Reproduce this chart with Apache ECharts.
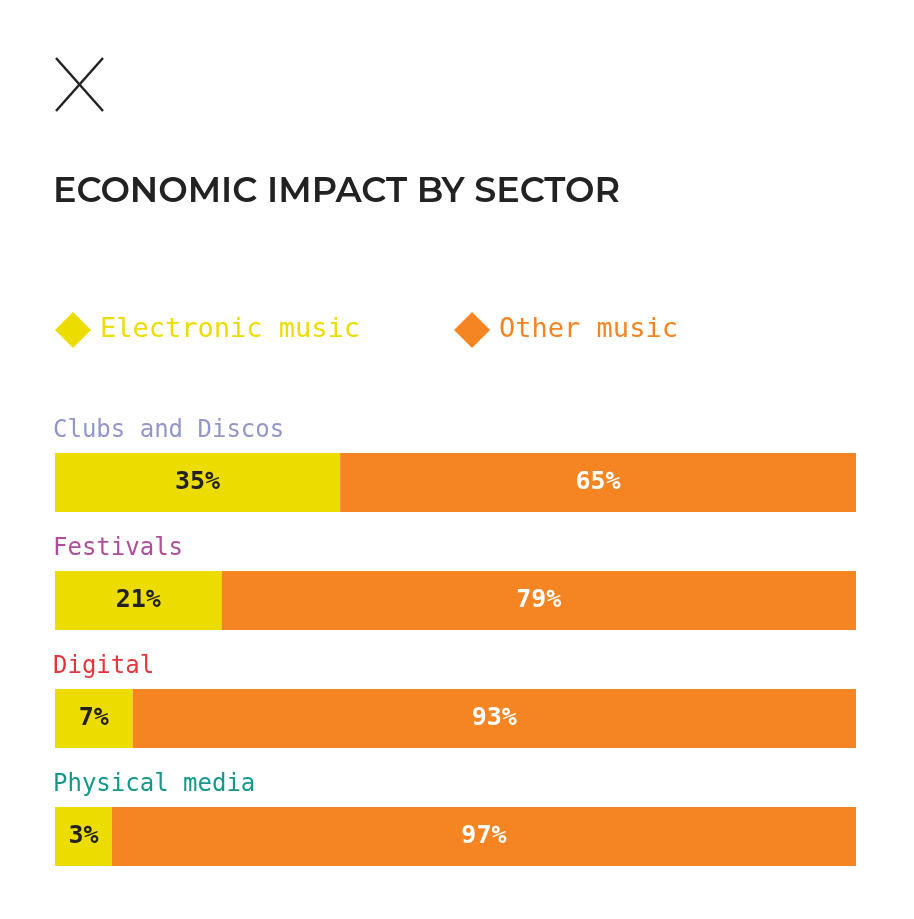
<!DOCTYPE html>
<html>
<head>
<meta charset="utf-8">
<script src="https://cdn.jsdelivr.net/npm/echarts@6/dist/echarts.min.js"></script>
<style>
  html, body { margin: 0; padding: 0; background: #fff; }
  #chart { width: 914px; height: 919px; }
</style>
</head>
<body>
<div id="chart"></div>
<script>
const categories = ["Clubs and Discos", "Festivals", "Digital", "Physical media"];
const categoryColors = ["#9396c8", "#b04c9e", "#e8343c", "#15978b"];
const electronicLabels = [35, 21, 7, 3];
const otherLabels = [65, 79, 93, 97];
// drawn widths as they appear in the picture (small shares are widened)
const electronicShare = [35.6, 20.8, 9.7, 7.1];
const otherShare = electronicShare.map((v) => 100 - v);

const yellow = "#ecdc00";
const orange = "#f58423";
const pixelFont = "DejaVu Sans Mono";

const chart = echarts.init(document.getElementById("chart"));

chart.setOption({
  animation: false,
  grid: { left: 55, right: 58, top: 423.5, bottom: 23.5 },
  xAxis: { type: "value", min: 0, max: 100, show: false },
  yAxis: {
    type: "category",
    data: categories,
    inverse: true,
    axisLine: { show: false },
    axisTick: { show: false },
    axisLabel: {
      inside: true,
      align: "left",
      margin: -2,
      fontFamily: pixelFont,
      fontSize: 24,
      padding: [0, 0, 104, 0],
      formatter: (v) => `{c${categories.indexOf(v)}|${v}}`,
      rich: Object.fromEntries(
        categoryColors.map((c, i) => [
          "c" + i,
          { color: c, fontFamily: pixelFont, fontSize: 24 },
        ]),
      ),
    },
    z: 10,
  },
  series: [
    {
      name: "Electronic music",
      type: "bar",
      stack: "s",
      barWidth: 59,
      data: electronicShare,
      itemStyle: { color: yellow },
      label: {
        show: true,
        position: "inside",
        color: "#222",
        fontFamily: pixelFont,
        fontWeight: "bold",
        fontSize: 25,
        formatter: (p) => electronicLabels[p.dataIndex] + "%",
      },
    },
    {
      name: "Other music",
      type: "bar",
      stack: "s",
      barWidth: 59,
      data: otherShare,
      itemStyle: { color: orange },
      label: {
        show: true,
        position: "inside",
        color: "#fff",
        fontFamily: pixelFont,
        fontWeight: "bold",
        fontSize: 25,
        formatter: (p) => otherLabels[p.dataIndex] + "%",
      },
    },
  ],
  legend: {
    left: 50,
    top: 307,
    itemWidth: 36,
    itemHeight: 36,
    itemGap: 94,
    icon: "diamond",
    selectedMode: false,
    textStyle: { fontFamily: pixelFont, fontSize: 27, padding: [0, 0, 0, 4] },
    data: [
      { name: "Electronic music", textStyle: { color: yellow } },
      { name: "Other music", textStyle: { color: orange } },
    ],
  },
  graphic: [
    {
      type: "line",
      shape: { x1: 56, y1: 58, x2: 103, y2: 111 },
      style: { stroke: "#222", lineWidth: 2.5 },
    },
    {
      type: "line",
      shape: { x1: 103, y1: 58, x2: 56, y2: 111 },
      style: { stroke: "#222", lineWidth: 2.5 },
    },
    {
      type: "text",
      left: 53,
      top: 174,
      style: {
        text: "ECONOMIC IMPACT BY SECTOR",
        fill: "#222",
        font: "600 35px Montserrat, 'Noto Sans', sans-serif",
      },
    },
  ],
});
</script>
</body>
</html>
